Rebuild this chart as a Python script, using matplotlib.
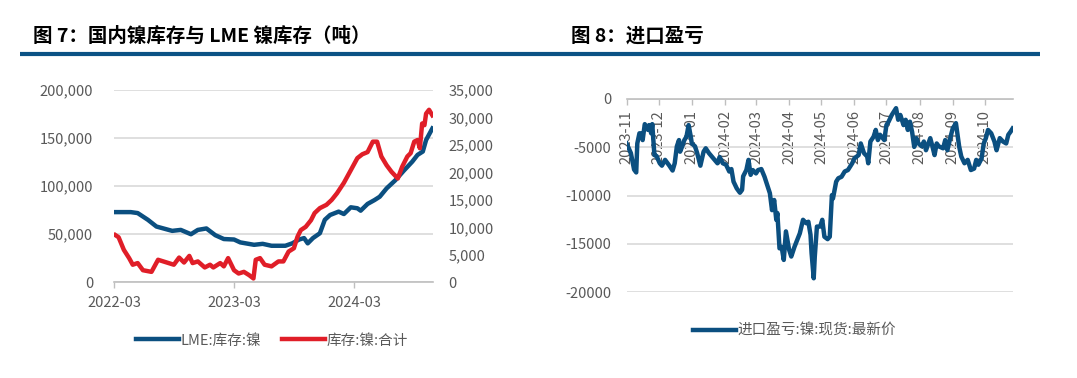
import matplotlib
matplotlib.use("Agg")
import matplotlib.pyplot as plt
import matplotlib.dates as mdates
from matplotlib.lines import Line2D
from matplotlib.ticker import FuncFormatter, FixedLocator
import pandas as pd

plt.rcParams['font.family'] = ['Noto Sans CJK SC', 'DejaVu Sans']
plt.rcParams['axes.unicode_minus'] = False

# ---------------- data: figure 7 ----------------
lme_dates = ['2022-03-05', '2022-04-21', '2022-05-12', '2022-06-12', '2022-07-08', '2022-08-25',
             '2022-09-20', '2022-10-21', '2022-11-11', '2022-12-07', '2023-01-03', '2023-01-29',
             '2023-03-01', '2023-03-20', '2023-05-01', '2023-05-27', '2023-06-23', '2023-08-04',
             '2023-08-25', '2023-09-15', '2023-09-30', '2023-10-11', '2023-10-27', '2023-11-17',
             '2023-12-02', '2023-12-18', '2024-01-13', '2024-01-29', '2024-02-19', '2024-03-10',
             '2024-03-20', '2024-04-10', '2024-05-01', '2024-05-17', '2024-06-07', '2024-07-03',
             '2024-07-29', '2024-08-24', '2024-09-09', '2024-09-25', '2024-10-05', '2024-10-24']
lme_stock = [73000, 73000, 72000, 65000, 58000, 53500,
             54500, 50000, 54500, 56000, 49000, 45000,
             44500, 41500, 39000, 40000, 38000, 38000,
             40500, 44500, 46000, 40500, 46000, 51000,
             65000, 70000, 73500, 71000, 78000, 77000,
             74500, 81500, 85500, 89000, 97700, 106000,
             116000, 125500, 132500, 136000, 148000, 160000]

dom_dates = ['2022-03-05', '2022-03-15', '2022-03-31', '2022-04-16', '2022-04-27', '2022-05-12',
             '2022-05-28', '2022-06-23', '2022-07-13', '2022-07-29', '2022-08-14', '2022-08-30',
             '2022-09-15', '2022-09-30', '2022-10-16', '2022-10-26', '2022-11-11', '2022-12-02',
             '2022-12-18', '2022-12-28', '2023-01-18', '2023-01-29', '2023-02-11', '2023-03-01',
             '2023-03-15', '2023-03-31', '2023-04-16', '2023-04-29', '2023-05-06', '2023-05-19',
             '2023-06-02', '2023-06-23', '2023-07-14', '2023-07-29', '2023-08-14', '2023-08-30',
             '2023-09-10', '2023-09-20', '2023-10-05', '2023-10-21', '2023-11-01', '2023-11-17',
             '2023-12-07', '2023-12-23', '2024-01-08', '2024-01-29', '2024-02-19', '2024-03-10',
             '2024-03-25', '2024-04-10', '2024-04-26', '2024-05-09', '2024-05-22', '2024-06-07',
             '2024-06-22', '2024-07-11', '2024-07-24', '2024-08-09', '2024-08-19', '2024-08-30',
             '2024-09-09', '2024-09-16', '2024-09-23', '2024-09-30', '2024-10-05', '2024-10-14',
             '2024-10-24']
dom_stock = [8600, 8200, 5900, 4400, 3200, 3500,
             2200, 1900, 4100, 3800, 3500, 3200,
             4500, 3600, 4800, 3500, 3800, 2700,
             3200, 2700, 3500, 2900, 4400, 2200,
             1600, 1900, 1300, 700, 4100, 4400,
             3200, 2900, 3800, 3800, 5600, 6200,
             8300, 9500, 10100, 11300, 12600, 13500,
             14100, 15000, 16200, 18100, 20400, 22600,
             23300, 23700, 25600, 25600, 22900, 21300,
             20100, 18900, 21000, 22900, 23500, 25600,
             25900, 24400, 28900, 28600, 30700, 31400,
             30400]

left_ticks = ['2022-03', '2023-03', '2024-03']
left_yticks = [0, 50000, 100000, 150000, 200000]
right_yticks = [0, 5000, 10000, 15000, 20000, 25000, 30000, 35000]

# ---------------- data: figure 8 ----------------
imp_dates = ['2023-11-01', '2023-11-05', '2023-11-08', '2023-11-10', '2023-11-11', '2023-11-13',
             '2023-11-15', '2023-11-16', '2023-11-18', '2023-11-21', '2023-11-22', '2023-11-24',
             '2023-11-25', '2023-11-27', '2023-11-29', '2023-12-02', '2023-12-04', '2023-12-07',
             '2023-12-11', '2023-12-14', '2023-12-16', '2023-12-18', '2023-12-20', '2023-12-21',
             '2023-12-23', '2023-12-25', '2023-12-27', '2023-12-29', '2023-12-31', '2024-01-01',
             '2024-01-04', '2024-01-06', '2024-01-09', '2024-01-12', '2024-01-14', '2024-01-17',
             '2024-01-22', '2024-01-25', '2024-01-27', '2024-01-30', '2024-02-02', '2024-02-05',
             '2024-02-07', '2024-02-09', '2024-02-12', '2024-02-15', '2024-02-17', '2024-02-18',
             '2024-02-21', '2024-02-23', '2024-02-25', '2024-02-27', '2024-03-01', '2024-03-03',
             '2024-03-06', '2024-03-09', '2024-03-12', '2024-03-14', '2024-03-16', '2024-03-18',
             '2024-03-20', '2024-03-21', '2024-03-23', '2024-03-25', '2024-03-27', '2024-03-29',
             '2024-04-01', '2024-04-03', '2024-04-06', '2024-04-11', '2024-04-14', '2024-04-17',
             '2024-04-19', '2024-04-21', '2024-04-22', '2024-04-24', '2024-04-25', '2024-04-27',
             '2024-04-30', '2024-05-02', '2024-05-04', '2024-05-07', '2024-05-09', '2024-05-11',
             '2024-05-12', '2024-05-15', '2024-05-17', '2024-05-20', '2024-05-23', '2024-05-26',
             '2024-05-28', '2024-05-30', '2024-06-01', '2024-06-05', '2024-06-07', '2024-06-10',
             '2024-06-13', '2024-06-14', '2024-06-16', '2024-06-19', '2024-06-21', '2024-06-23',
             '2024-06-25', '2024-06-29', '2024-07-01', '2024-07-03', '2024-07-06', '2024-07-08',
             '2024-07-10', '2024-07-12', '2024-07-14', '2024-07-17', '2024-07-19', '2024-07-21',
             '2024-07-23', '2024-07-25', '2024-07-27', '2024-07-29', '2024-07-31', '2024-08-03',
             '2024-08-05', '2024-08-07', '2024-08-11', '2024-08-13', '2024-08-15', '2024-08-17',
             '2024-08-19', '2024-08-23', '2024-08-25', '2024-08-27', '2024-08-30', '2024-09-01',
             '2024-09-04', '2024-09-07', '2024-09-09', '2024-09-12', '2024-09-15', '2024-09-18',
             '2024-09-21', '2024-09-23', '2024-09-25', '2024-09-28', '2024-09-30', '2024-10-02',
             '2024-10-04', '2024-10-07', '2024-10-10', '2024-10-12', '2024-10-15', '2024-10-18',
             '2024-10-21', '2024-10-23', '2024-10-25', '2024-10-27']
imp_profit = [-4600, -5600, -7300, -7600, -4600, -3550,
              -3550, -4250, -2600, -3200, -2700, -3550,
              -2600, -5800, -5900, -6650, -6900, -6300,
              -6900, -7400, -6650, -4900, -4250, -5450,
              -4900, -4250, -3900, -2700, -3900, -4600,
              -4900, -5600, -6900, -5450, -5100, -5600,
              -6250, -6650, -6000, -6650, -6800, -7500,
              -7250, -8550, -9250, -9700, -9400, -8000,
              -7350, -6300, -7850, -7350, -7700, -7350,
              -7250, -8050, -9050, -9750, -11500, -10450,
              -12500, -11800, -15450, -15300, -16650, -13700,
              -15600, -16300, -15300, -13900, -12500, -12850,
              -12700, -14050, -15950, -18550, -16300, -13200,
              -13200, -12500, -14250, -14500, -14250, -9950,
              -10300, -8550, -8200, -8050, -7500, -7350,
              -7000, -6650, -6150, -5800, -4600, -5600,
              -5950, -6650, -4400, -3900, -3200, -4250,
              -3700, -4250, -2700, -2350, -1650, -1300,
              -950, -2150, -1650, -2700, -2150, -3200,
              -2350, -3400, -4950, -4050, -4600, -4900,
              -4400, -5300, -4050, -4900, -5800, -4600,
              -4900, -5100, -4250, -5300, -3900, -3050,
              -2500, -4900, -5950, -6650, -6300, -7350,
              -7200, -6300, -6800, -6150, -4600, -4050,
              -3200, -3550, -4400, -5300, -4050, -4400,
              -4600, -3700, -3400, -3050]

imp_ticks = ['2023-11', '2023-12', '2024-01', '2024-02', '2024-03', '2024-04',
             '2024-05', '2024-06', '2024-07', '2024-08', '2024-09', '2024-10']
imp_yticks = [0, -5000, -10000, -15000, -20000]

title7 = '图 7：国内镍库存与 LME 镍库存（吨）'
title8 = '图 8：进口盈亏'
lbl_lme = 'LME:库存:镍'
lbl_dom = '库存:镍:合计'
lbl_imp = '进口盈亏:镍:现货:最新价'

# ---------------- styling ----------------
BLUE = '#0B4F80'
RED = '#E01E28'
RULE = '#0B5285'
GRAY_TXT = '#595959'
GRID = '#D9D9D9'
AXLINE = '#BFBFBF'
FS = 10.5
LW = 3.2

W, H = 1077, 378
fig = plt.figure(figsize=(W / 100, H / 100), dpi=100)


def fx(px):
    return px / W


def fy(py):
    return 1 - py / H


# titles and rule
fig.text(fx(33), fy(36), title7, fontsize=14, fontweight='bold', color='black', va='center', ha='left')
fig.text(fx(571), fy(36), title8, fontsize=14, fontweight='bold', color='black', va='center', ha='left')
fig.add_artist(Line2D([fx(20), fx(1040)], [fy(53.5), fy(53.5)], lw=3, color=RULE, solid_capstyle='butt'))

# ---------------- left chart ----------------
axL = fig.add_axes([fx(114), fy(282.3), fx(433 - 114), (282.3 - 90) / H])
axR = axL.twinx()

lme_x = pd.to_datetime(lme_dates)
dom_x = pd.to_datetime(dom_dates)
lL, = axL.plot(lme_x, lme_stock, color=BLUE, lw=LW, solid_joinstyle='round', zorder=3)
lR, = axR.plot(dom_x, dom_stock, color=RED, lw=LW, solid_joinstyle='round', zorder=3)

axL.set_xlim(pd.Timestamp('2022-03-01'), pd.Timestamp('2024-10-26'))
axL.set_ylim(0, 200000)
axR.set_ylim(0, 35000)
axL.set_yticks(left_yticks)
axR.set_yticks(right_yticks)
comma = FuncFormatter(lambda v, p: f'{int(v):,}')
axL.yaxis.set_major_formatter(comma)
axR.yaxis.set_major_formatter(comma)
axL.set_xticks(pd.to_datetime([t + '-01' for t in left_ticks]))
axL.set_xticklabels(left_ticks)

axL.grid(axis='y', color=GRID, lw=1.2)
axL.set_axisbelow(True)
for ax in (axL, axR):
    for s in ('top', 'right', 'left', 'bottom'):
        ax.spines[s].set_visible(False)
axL.spines['bottom'].set_visible(True)
axL.spines['bottom'].set_color(AXLINE)
axL.spines['bottom'].set_linewidth(1.2)
axL.tick_params(axis='x', direction='out', length=4, width=1.0, color=AXLINE,
                labelsize=FS, labelcolor=GRAY_TXT, pad=6)
axL.tick_params(axis='y', length=0, labelsize=FS, labelcolor=GRAY_TXT, pad=15)
axR.tick_params(axis='y', length=0, labelsize=FS, labelcolor=GRAY_TXT, pad=11)
axR.set_zorder(axL.get_zorder() + 1)

fig.legend([lL, lR], [lbl_lme, lbl_dom], loc='center', bbox_to_anchor=(fx(272), fy(340.5)),
           ncol=2, frameon=False, fontsize=FS, labelcolor=GRAY_TXT, handlelength=2.95,
           handletextpad=0.15, columnspacing=1.4, borderpad=0, borderaxespad=0)

# ---------------- right chart ----------------
ax2 = fig.add_axes([fx(626.6), fy(292.3), fx(1012.6 - 626.6), (292.3 - 99) / H])
imp_x = pd.to_datetime(imp_dates)
l2, = ax2.plot(imp_x, imp_profit, color=BLUE, lw=LW, solid_joinstyle='round', zorder=3)
ax2.set_xlim(pd.Timestamp('2023-11-01'), pd.Timestamp('2024-10-27'))
ax2.set_ylim(-20000, 0)
ax2.set_yticks(imp_yticks)
ax2.yaxis.set_major_formatter(FuncFormatter(lambda v, p: f'{int(v)}'))
ax2.grid(axis='y', color=GRID, lw=1.2)
ax2.set_axisbelow(True)
for s in ('bottom', 'right', 'left'):
    ax2.spines[s].set_visible(False)
ax2.spines['top'].set_color(AXLINE)
ax2.spines['top'].set_linewidth(1.2)
ax2.xaxis.set_major_locator(FixedLocator(mdates.date2num(pd.to_datetime([t + '-01' for t in imp_ticks]))))
ax2.set_xticklabels(imp_ticks)
ax2.tick_params(axis='x', which='both', bottom=False, labelbottom=False, top=True, labeltop=True,
                direction='in', length=4, width=1.0, color=AXLINE, labelsize=FS,
                labelcolor=GRAY_TXT, labelrotation=90, pad=-8)
for t in ax2.xaxis.get_major_ticks():
    t.label2.set_verticalalignment('top')
ax2.tick_params(axis='y', length=0, labelsize=FS, labelcolor=GRAY_TXT, pad=11)

fig.legend([l2], [lbl_imp], loc='center', bbox_to_anchor=(fx(794.5), fy(331)),
           frameon=False, fontsize=FS, labelcolor=GRAY_TXT, handlelength=2.95,
           handletextpad=0.15, borderpad=0, borderaxespad=0)

fig.savefig('out.png', dpi=100)
